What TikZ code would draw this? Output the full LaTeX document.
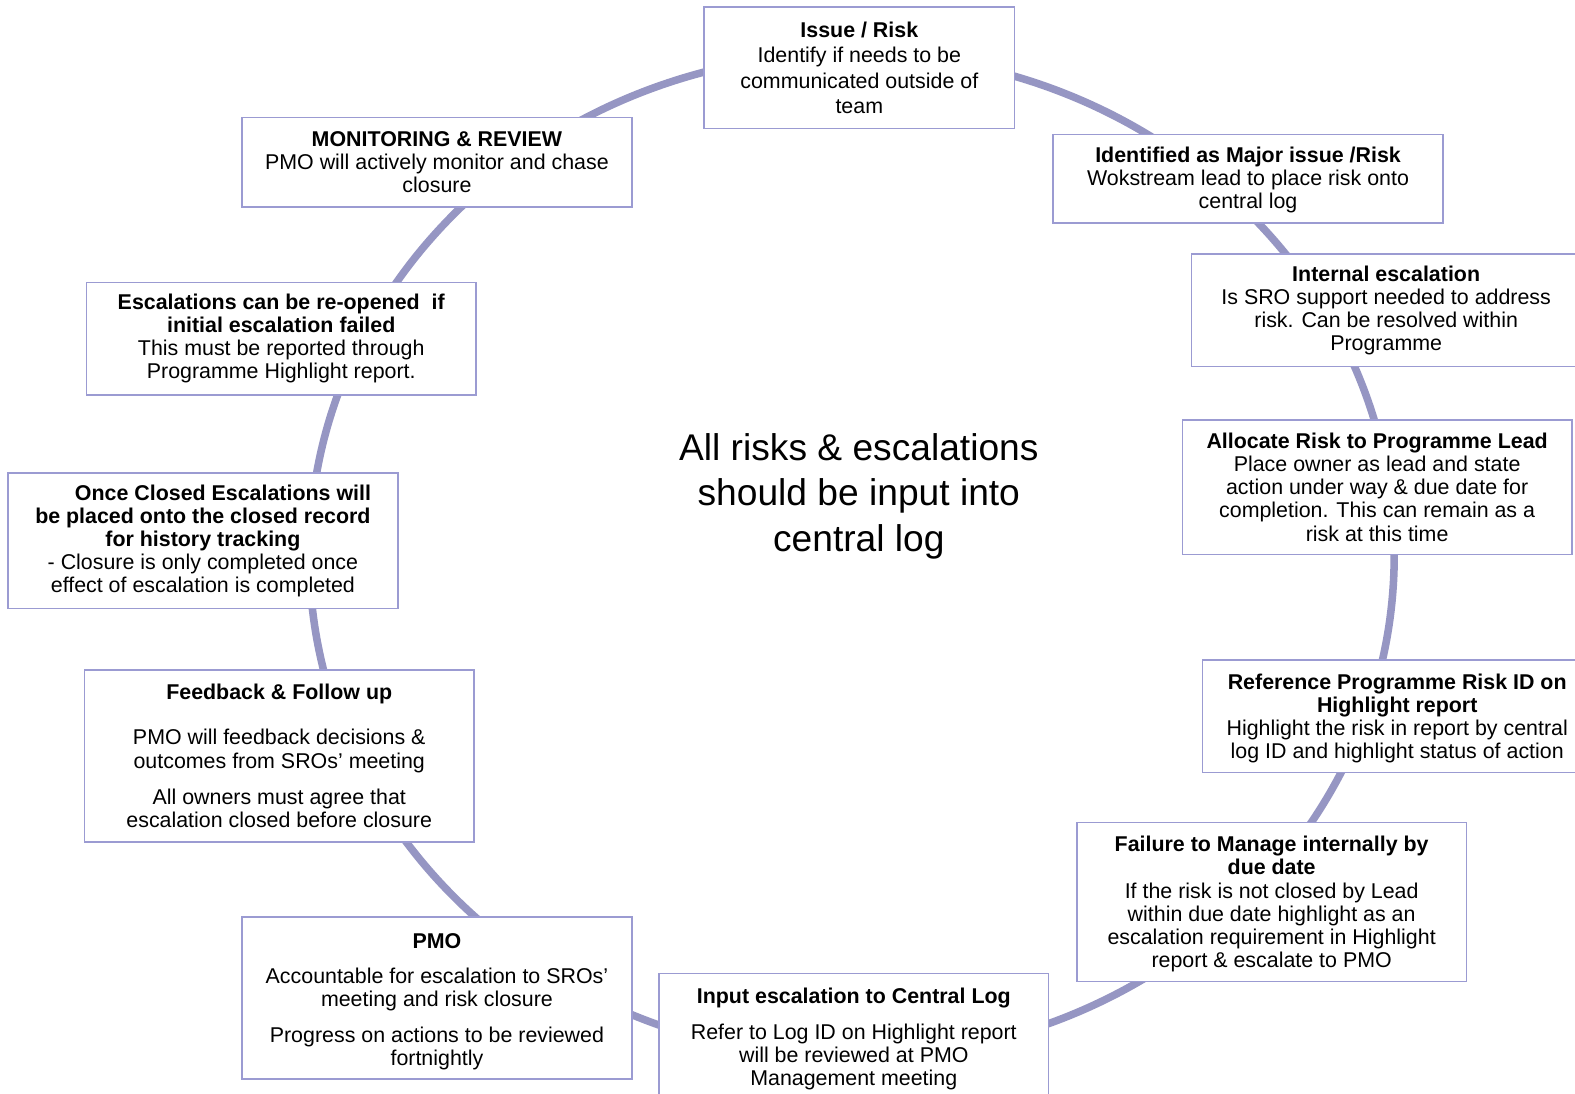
\documentclass[tikz,border=0pt]{standalone}
\usepackage{fontspec}
\setmainfont{Liberation Sans}
\definecolor{ring}{RGB}{150,150,195}
\definecolor{boxline}{RGB}{155,155,210}
\begin{document}
\begin{tikzpicture}[x=1pt,y=-1pt,
  stagebox/.style={draw=boxline, line width=1.5pt, fill=white, align=center, inner sep=0pt,
    font=\fontsize{21.3}{23}\selectfont, minimum width=388pt},
  centretext/.style={align=center, font=\fontsize{37}{45}\selectfont}
]
\useasboundingbox (0,0) rectangle (1568,1089);
\clip (0,0) rectangle (1568,1089);
\fill[white] (0,0) rectangle (1568,1089);
\draw[ring, line width=7.5pt] (848,553) ellipse [x radius=540, y radius=500];

\node[stagebox, minimum width=309pt, minimum height=121pt, font=\fontsize{21.3}{25}\selectfont] (issue) at (855.5,67.5)
 {\textbf{Issue / Risk}\\Identify if needs to be\\communicated outside of\\team};
\node[stagebox, minimum height=88pt] (major) at (1242.5,178)
 {\rule{0pt}{18pt}\textbf{Identified as Major issue /Risk}\\Wokstream lead to place risk onto\\central log};
\node[stagebox, minimum height=112pt] (internal) at (1380,309)
 {\textbf{Internal escalation}\\Is SRO support needed to address\\risk. Can be resolved within\\Programme};
\node[stagebox, minimum height=134pt] (allocate) at (1371,485)
 {\textbf{Allocate Risk to Programme Lead}\\Place owner as lead and state\\action under way \& due date for\\completion. This can remain as a\\risk at this time};
\node[stagebox, minimum height=112pt] (reference) at (1391,713)
 {\rule{0pt}{19.5pt}\textbf{Reference Programme Risk ID on}\\\textbf{Highlight report}\\Highlight the risk in report by central\\log ID and highlight status of action};
\node[stagebox, minimum height=158pt] (failure) at (1266,898)
 {\rule{0pt}{19.5pt}\textbf{Failure to Manage internally by}\\\textbf{due date}\\If the risk is not closed by Lead\\within due date highlight as an\\escalation requirement in Highlight\\report \& escalate to PMO};
\node[stagebox, minimum height=127pt] (input) at (850,1032.5)
 {\rule{0pt}{19.5pt}\textbf{Input escalation to Central Log}\\[13pt]Refer to Log ID on Highlight report\\will be reviewed at PMO\\Management meeting};
\node[stagebox, minimum height=161pt] (pmo) at (435,993.5)
 {\rule{0pt}{22pt}\textbf{PMO}\\[12pt]Accountable for escalation to SROs’\\meeting and risk closure\\[13pt]Progress on actions to be reviewed\\fortnightly};
\node[stagebox, minimum height=171pt] (feedback) at (278,752.5)
 {\textbf{Feedback \& Follow up}\\[22pt]PMO will feedback decisions \&\\outcomes from SROs’ meeting\\[13pt]All owners must agree that\\escalation closed before closure};
\node[stagebox, minimum height=135pt] (closed) at (202,538.5)
 {\hspace*{40pt}\textbf{Once Closed Escalations will}\\\textbf{be placed onto the closed record}\\\textbf{for history tracking}\\- Closure is only completed once\\effect of escalation is completed};
\node[stagebox, minimum height=112pt] (reopen) at (280,337)
 {\textbf{Escalations can be re-opened\ \ if}\\\textbf{initial escalation failed}\\This must be reported through\\Programme Highlight report.};
\node[stagebox, minimum height=89pt] (monitor) at (435,161.5)
 {\textbf{MONITORING \& REVIEW}\\PMO will actively monitor and chase\\closure};

\node[centretext] (centre) at (855,494) {All risks \& escalations\\should be input into\\central log};
\end{tikzpicture}
\end{document}
